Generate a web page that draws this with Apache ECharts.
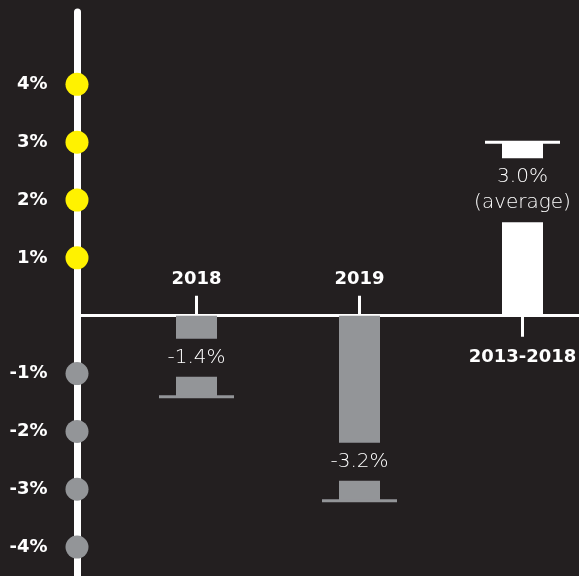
<!DOCTYPE html>
<html>
<head>
<meta charset="utf-8">
<script src="https://cdn.jsdelivr.net/npm/echarts@6/dist/echarts.min.js"></script>
<style>
  html, body { margin: 0; padding: 0; background: #231f20; }
  #chart { width: 579px; height: 576px; }
</style>
</head>
<body>
<div id="chart"></div>
<script>
// ---- data ----
const categories = ['2018', '2019', '2013-2018'];
const values = [-1.4, -3.2, 3.0];
const notes = ['', '', '(average)'];
const axisMarks = [4, 3, 2, 1, -1, -2, -3, -4];

// ---- styles ----
const BG = '#231f20';
const WHITE = '#ffffff';
const GRAY = '#939598';
const YELLOW = '#fff200';
const YMIN = -4.5, YMAX = 5.25;
const W = 579, H = 576, GTOP = 12, GBOTTOM = 0;
const plotH = H - GTOP - GBOTTOM;
const zeroFromBottom = plotH * (0 - YMIN) / (YMAX - YMIN); // distance of value 0 from grid bottom

const chart = echarts.init(document.getElementById('chart'), null, { renderer: 'canvas' });

function renderBar(params, api) {
  const i = api.value(0), v = api.value(1);
  const base = api.coord([i, 0]);
  const end = api.coord([i, v]);
  const cx = base[0];
  const dir = v < 0 ? 1 : -1;
  const color = v < 0 ? GRAY : WHITE;
  const note = notes[params.dataIndex];
  const endSeg = v < 0 ? 20 : 16;
  const gapH = note ? 64 : 38;
  const bw = 41;
  const gapFar = end[1] - dir * endSeg;
  const gapNear = end[1] - dir * (endSeg + gapH);
  const text = v.toFixed(1) + '%' + (note ? '\n' + note : '');
  return {
    type: 'group',
    children: [
      { type: 'rect', shape: { x: cx - bw / 2, y: Math.min(base[1], gapNear), width: bw, height: Math.abs(gapNear - base[1]) }, style: { fill: color } },
      { type: 'rect', shape: { x: cx - bw / 2, y: Math.min(gapFar, end[1]), width: bw, height: endSeg }, style: { fill: color } },
      { type: 'rect', shape: { x: cx - 37.5, y: end[1] - 1.5, width: 75, height: 3 }, style: { fill: color } },
      { type: 'text', x: cx, y: (gapNear + gapFar) / 2, style: {
          text: text, fill: WHITE, align: 'center', verticalAlign: 'middle',
          fontFamily: '"DejaVu Sans", sans-serif', fontWeight: 200, fontSize: 20, lineHeight: 26 } }
    ]
  };
}

const labelFont = { fontFamily: '"DejaVu Sans", sans-serif', fontWeight: 'bold', color: WHITE };

const option = {
  backgroundColor: BG,
  animation: false,
  grid: [
    { left: 77, right: 0, top: GTOP, bottom: GBOTTOM, outerBoundsMode: 'none' },
    { left: 115, right: -25, top: GTOP, bottom: GBOTTOM, outerBoundsMode: 'none' }
  ],
  xAxis: [
    { gridIndex: 0, type: 'value', min: 0, max: 1,
      axisLine: { show: true, onZero: true, lineStyle: { color: WHITE, width: 3 } },
      axisTick: { show: false }, axisLabel: { show: false }, splitLine: { show: false } },
    { gridIndex: 1, type: 'category', data: categories, position: 'bottom', offset: -zeroFromBottom,
      axisLine: { show: false, onZero: false },
      axisTick: { show: true, inside: true, length: 20, alignWithLabel: true,
        interval: (idx) => idx < 2, lineStyle: { color: WHITE, width: 3 } },
      axisLabel: Object.assign({ inside: true, margin: 27, fontSize: 18, interval: (idx) => idx < 2 }, labelFont),
      splitLine: { show: false } },
    { gridIndex: 1, type: 'category', data: categories, position: 'bottom', offset: -zeroFromBottom,
      axisLine: { show: false, onZero: false },
      axisTick: { show: true, inside: false, length: 21, alignWithLabel: true,
        interval: (idx) => idx === 2, lineStyle: { color: WHITE, width: 3 } },
      axisLabel: Object.assign({ inside: false, margin: 33, fontSize: 18, interval: (idx) => idx === 2 }, labelFont),
      splitLine: { show: false } }
  ],
  yAxis: [
    { gridIndex: 0, type: 'value', min: YMIN, max: YMAX,
      axisLine: { show: true, onZero: true, lineStyle: { color: WHITE, width: 7 } },
      axisTick: { show: false }, axisLabel: { show: false }, splitLine: { show: false } },
    { gridIndex: 1, type: 'value', min: YMIN, max: YMAX, show: false, splitLine: { show: false } }
  ],
  series: [
    { type: 'scatter', xAxisIndex: 0, yAxisIndex: 0, symbolSize: 23, z: 5,
      itemStyle: { opacity: 1 },
      data: axisMarks.map(v => ({ value: [0, v], itemStyle: { color: v > 0 ? YELLOW : GRAY, opacity: 1 } })),
      label: Object.assign({ show: true, position: 'left', distance: 18, fontSize: 18,
        formatter: p => p.value[1] + '%' }, labelFont),
      emphasis: { disabled: true }, silent: true },
    { type: 'custom', xAxisIndex: 1, yAxisIndex: 1, renderItem: renderBar,
      data: values.map((v, i) => [i, v]), silent: true, z: 3 }
  ]
};
chart.setOption(option);
</script>
</body>
</html>
